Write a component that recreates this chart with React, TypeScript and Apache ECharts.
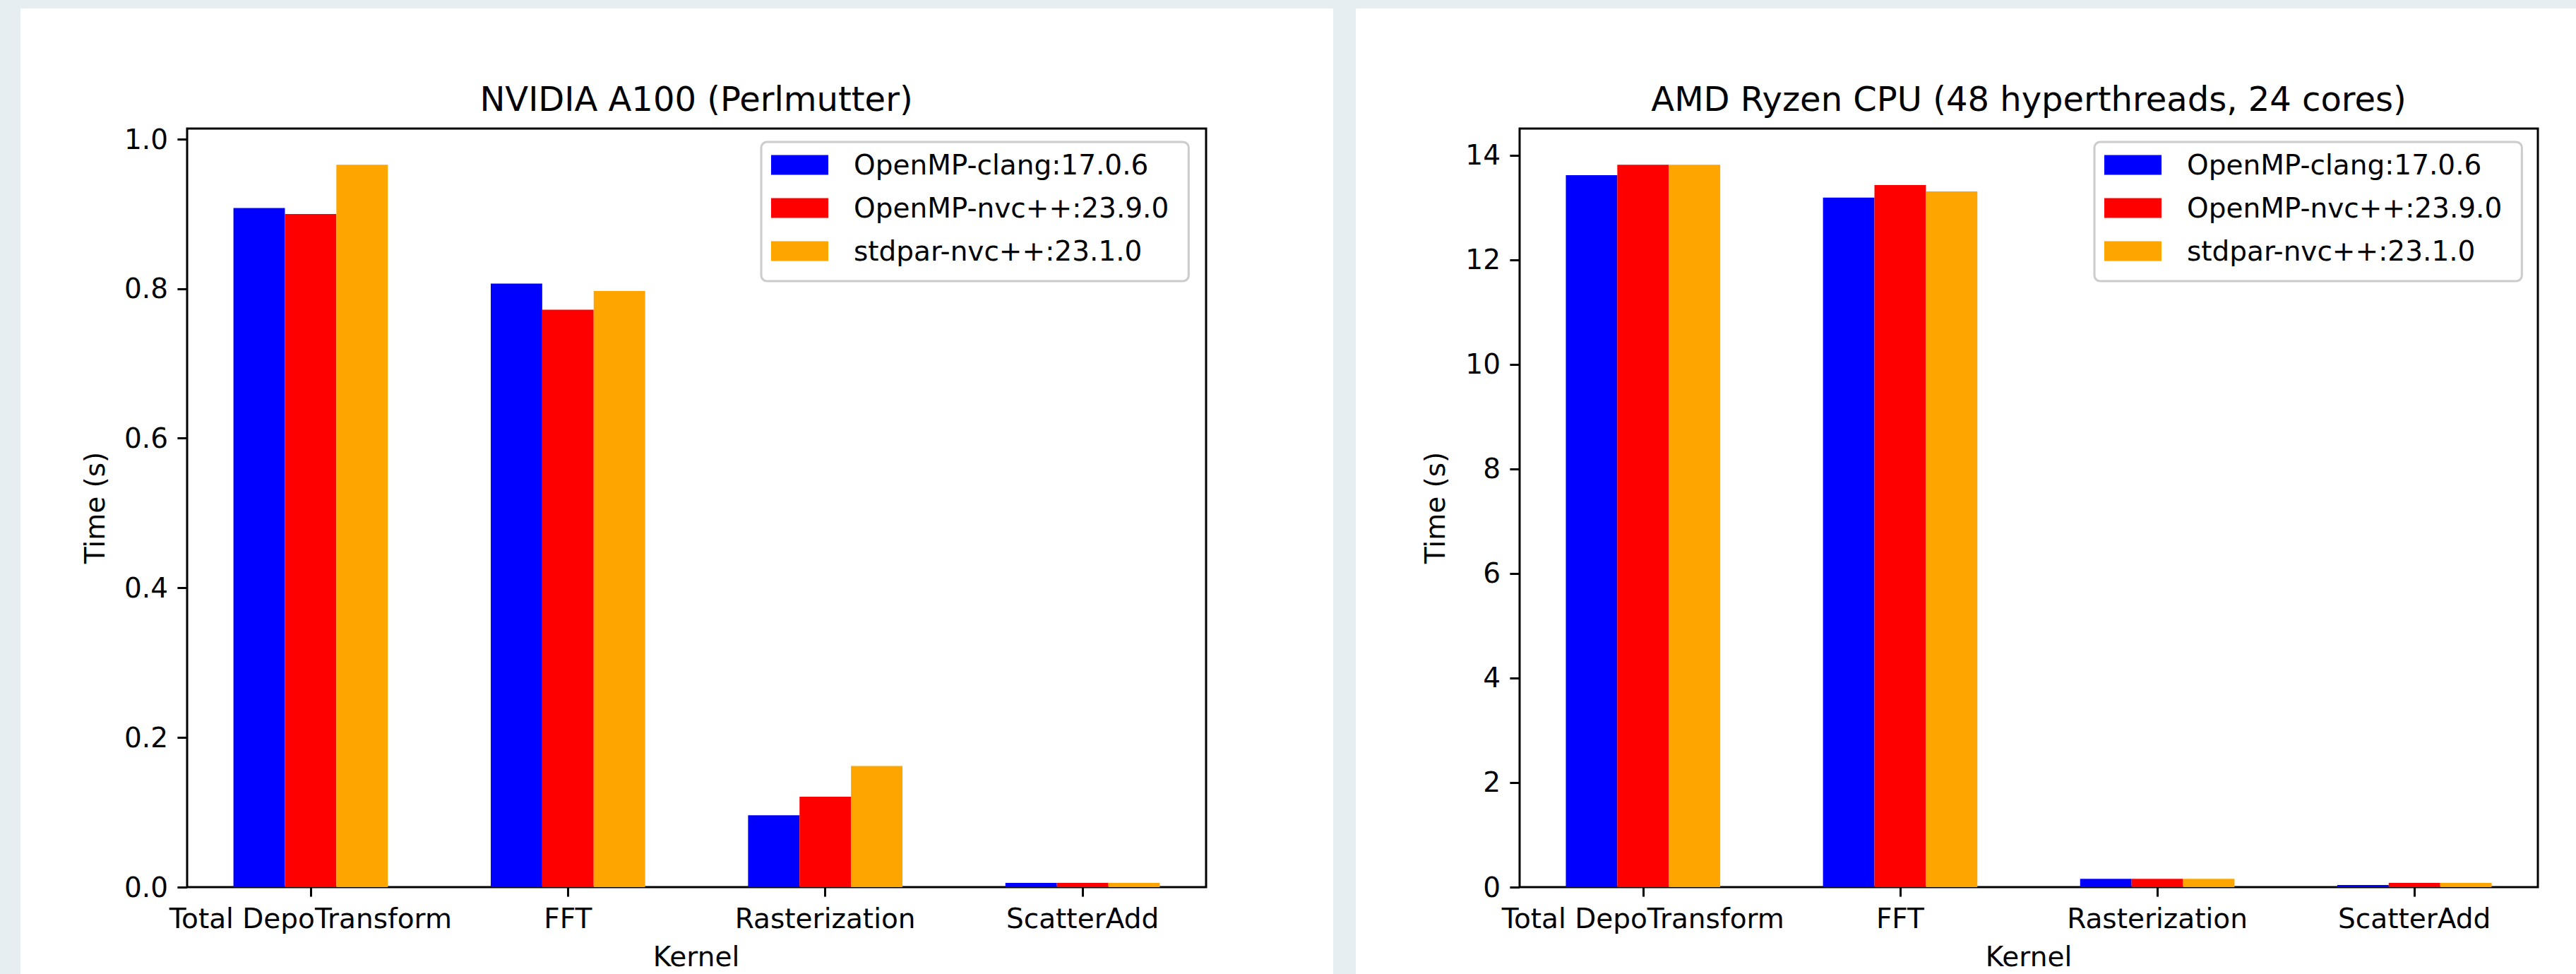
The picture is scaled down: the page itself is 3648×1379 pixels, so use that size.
import React, { useEffect, useRef } from "react";
import * as echarts from "echarts";

const categories = ["Total DepoTransform", "FFT", "Rasterization", "ScatterAdd"];
const seriesNames = ["OpenMP-clang:17.0.6", "OpenMP-nvc++:23.9.0", "stdpar-nvc++:23.1.0"];
const seriesColors = ["#0000ff", "#ff0000", "#ffa500"];

// NVIDIA A100 (Perlmutter) times (s)
const gpuClang = [0.908, 0.807, 0.096, 0.0057];
const gpuNvc = [0.9, 0.772, 0.121, 0.0057];
const gpuStdpar = [0.966, 0.797, 0.162, 0.0057];

// AMD Ryzen CPU times (s)
const cpuClang = [13.62, 13.19, 0.16, 0.04];
const cpuNvc = [13.82, 13.43, 0.16, 0.08];
const cpuStdpar = [13.82, 13.31, 0.16, 0.08];

const gpuTicks = [0, 0.2, 0.4, 0.6, 0.8, 1.0];
const cpuTicks = [0, 2, 4, 6, 8, 10, 12, 14];

const titles = ["NVIDIA A100 (Perlmutter)", "AMD Ryzen CPU (48 hyperthreads, 24 cores)"];
const xName = "Kernel";
const yName = "Time (s)";

const FONT = "DejaVu Sans";
const FS = 39;

export default function App() {
  const ref = useRef<HTMLDivElement>(null);
  useEffect(() => {
    if (!ref.current) return;
    const chart = echarts.init(ref.current, null, { renderer: "svg" });
    const grids = [
      { left: 265, top: 182, width: 1443, height: 1074 },
      { left: 2152, top: 182, width: 1442, height: 1074 },
    ];
    const gpuData = [gpuClang, gpuNvc, gpuStdpar];
    const cpuData = [cpuClang, cpuNvc, cpuStdpar];
    const barW = 0.2 * (1443 / 3.96);

    const mkX = (gi: number) => ({
      type: "value",
      gridIndex: gi,
      min: -0.48,
      max: 3.48,
      position: "bottom",
      splitLine: { show: false },
      axisLine: { show: false, onZero: false },
      axisTick: {
        show: true,
        customValues: [0, 1, 2, 3],
        length: 13.6,
        lineStyle: { color: "#000", width: 3 },
      },
      axisLabel: {
        customValues: [0, 1, 2, 3],
        formatter: (v: number) => categories[Math.round(v)] ?? "",
        fontSize: FS,
        fontFamily: FONT,
        color: "#000",
        margin: 25,
        lineHeight: 39,
      },
    });
    const mkY = (gi: number, max: number, ticks: number[], fmt: (v: number) => string) => ({
      type: "value",
      gridIndex: gi,
      min: 0,
      max,
      position: "left",
      splitLine: { show: false },
      axisLine: { show: false, onZero: false },
      axisTick: {
        show: true,
        customValues: ticks,
        length: 13.6,
        lineStyle: { color: "#000", width: 3 },
      },
      axisLabel: {
        customValues: ticks,
        formatter: fmt,
        fontSize: FS,
        fontFamily: FONT,
        color: "#000",
        margin: 27,
      },
    });

    const series: any[] = [];
    [gpuData, cpuData].forEach((dataSet, gi) => {
      dataSet.forEach((vals, si) => {
        series.push({
          type: "bar",
          name: seriesNames[si],
          xAxisIndex: gi,
          yAxisIndex: gi,
          data: vals.map((v, i) => [i, v]),
          barWidth: barW,
          barGap: "0%",
          itemStyle: { color: seriesColors[si] },
        });
      });
    });

    const mkLegend = (left: number) => ({
      orient: "vertical",
      left,
      top: 201,
      align: "left",
      icon: "rect",
      itemWidth: 81,
      itemHeight: 28,
      itemGap: 22,
      padding: [13, 28, 23, 14],
      backgroundColor: "rgba(255,255,255,0.8)",
      borderColor: "#cccccc",
      borderWidth: 3,
      borderRadius: 8,
      data: seriesNames,
      selectedMode: false,
      textStyle: {
        fontSize: FS,
        fontFamily: FONT,
        color: "#000",
        lineHeight: 39,
        padding: [0, 0, 0, 31],
      },
    });

    const txt = (text: string, x: number, y: number, size: number, rot = 0) => ({
      type: "text",
      x,
      y,
      rotation: rot,
      z: 10,
      style: {
        text,
        fontSize: size,
        fontFamily: FONT,
        fill: "#000",
        align: "center",
        verticalAlign: "middle",
      },
    });

    chart.setOption({
      animation: false,
      backgroundColor: "#e7eef1",
      grid: grids.map((g) => ({
        ...g,
        show: true,
        borderColor: "#000",
        borderWidth: 3,
        backgroundColor: "transparent",
        containLabel: false,
      })),
      xAxis: [mkX(0), mkX(1)],
      yAxis: [
        mkY(0, 0.966 * 1.05, gpuTicks, (v: number) => v.toFixed(1)),
        mkY(1, 13.82 * 1.05, cpuTicks, (v: number) => String(Math.round(v))),
      ],
      legend: [mkLegend(1078), mkLegend(2966)],
      series,
      graphic: [
        { type: "rect", z: -10, shape: { x: 29, y: 12, width: 1859, height: 1367 }, style: { fill: "#ffffff" } },
        { type: "rect", z: -10, shape: { x: 1920, y: 12, width: 1728, height: 1367 }, style: { fill: "#ffffff" } },
        txt(titles[0], 986, 140, 48),
        txt(titles[1], 2873, 140, 48),
        txt(xName, 986, 1354, FS),
        txt(xName, 2873, 1354, FS),
        txt(yName, 134, 719, FS, Math.PI / 2),
        txt(yName, 2032, 719, FS, Math.PI / 2),
      ],
    });
    return () => chart.dispose();
  }, []);
  return (
    <div
      ref={ref}
      style={{ position: "fixed", left: 0, top: 0, width: 3648, height: 1379 }}
    />
  );
}
